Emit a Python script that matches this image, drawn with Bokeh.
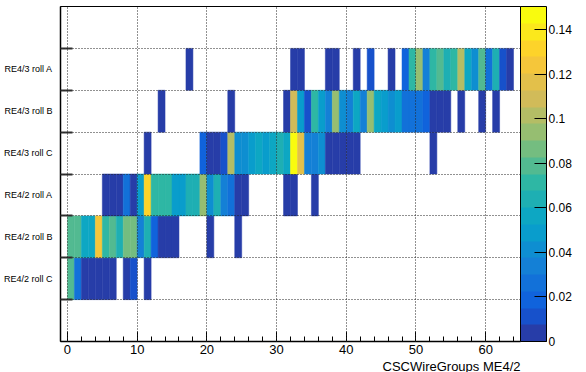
import numpy as np
from bokeh.plotting import figure
from bokeh.models import (ColumnDataSource, LinearColorMapper, ColorBar, FixedTicker,
                          SingleIntervalTicker, Title, CustomJSTickFormatter)
from bokeh.transform import transform
from bokeh.embed import file_html
from bokeh.resources import INLINE

# ---------------- data ----------------
roll_labels = ["RE4/2 roll C", "RE4/2 roll B", "RE4/2 roll A",
               "RE4/3 roll C", "RE4/3 roll B", "RE4/3 roll A"]
roll_rows = [1, 2, 3, 4, 5, 6]

re42C_bins = [0, 1, 2, 3, 4, 5, 6, 8, 9, 11]
re42C_vals = [0.079, 0.026, 0.003, 0.003, 0.003, 0.003, 0.003, 0.003, 0.011, 0.003]

re42B_bins = [0, 1, 2, 3, 4, 5, 6, 7, 8, 9, 10, 11, 12, 13, 14, 15, 20, 24]
re42B_vals = [0.079, 0.079, 0.056, 0.056, 0.124, 0.071, 0.079, 0.064, 0.086, 0.086,
              0.034, 0.064, 0.019, 0.003, 0.003, 0.003, 0.003, 0.003]

re42A_bins = [5, 6, 7, 8, 9, 10, 11, 12, 13, 14, 15, 16, 17, 18, 19, 20, 21, 22, 23,
              24, 25, 31, 32, 35]
re42A_vals = [0.003, 0.003, 0.003, 0.026, 0.003, 0.049, 0.131, 0.071, 0.071, 0.071,
              0.049, 0.049, 0.064, 0.064, 0.094, 0.041, 0.064, 0.034, 0.026,
              0.003, 0.003, 0.003, 0.003, 0.003]

re43C_bins = [11, 19, 20, 21, 22, 23, 24, 25, 26, 27, 28, 29, 30, 31, 32, 33, 34, 35,
              36, 37, 38, 39, 40, 41, 52]
re43C_vals = [0.003, 0.019, 0.003, 0.003, 0.011, 0.101, 0.041, 0.041, 0.049, 0.056,
              0.049, 0.056, 0.064, 0.056, 0.1504, 0.116, 0.034, 0.034,
              0.041, 0.003, 0.003, 0.003, 0.003, 0.003, 0.003]

re43B_bins = [13, 23, 31, 32, 33, 34, 35, 36, 37, 38, 39, 40, 41, 42, 43, 44, 45, 46,
              47, 48, 49, 50, 51, 52, 53, 54, 56, 59, 61]
re43B_vals = [0.003, 0.003, 0.003, 0.109, 0.049, 0.011, 0.071, 0.049, 0.034, 0.094,
              0.041, 0.034, 0.056, 0.034, 0.094, 0.056, 0.049, 0.041,
              0.049, 0.026, 0.026, 0.026, 0.019, 0.003, 0.003, 0.003, 0.003, 0.003, 0.003]

re43A_bins = [17, 32, 33, 37, 38, 41, 43, 46, 48, 49, 50, 51, 52, 53, 54, 55, 56, 57,
              58, 59, 60, 61, 62, 63]
re43A_vals = [0.003, 0.003, 0.003, 0.003, 0.003, 0.003, 0.011, 0.003, 0.019, 0.071,
              0.094, 0.034, 0.071, 0.079, 0.064, 0.071, 0.101, 0.056,
              0.041, 0.079, 0.026, 0.064, 0.011, 0.003]

x_title = "CSCWireGroups ME4/2"
cbar_ticks = [0, 0.02, 0.04, 0.06, 0.08, 0.10, 0.12, 0.14]

# ---------------- build table ----------------
rows_bins = [re42C_bins, re42B_bins, re42A_bins, re43C_bins, re43B_bins, re43A_bins]
rows_vals = [re42C_vals, re42B_vals, re42A_vals, re43C_vals, re43B_vals, re43A_vals]
xs, ys, vs = [], [], []
for r, b, v in zip(roll_rows, rows_bins, rows_vals):
    for bb, vv in zip(b, v):
        xs.append(bb + 0.5)
        ys.append(r + 0.5)
        vs.append(vv)
src = ColumnDataSource(dict(x=xs, y=ys, v=vs))
z_max = max(vs)

# ROOT kBird palette, 20 contour levels
stops = [0.0, 0.125, 0.25, 0.375, 0.5, 0.625, 0.75, 0.875, 1.0]
red = [0.2082, 0.0592, 0.0780, 0.0232, 0.1802, 0.5301, 0.8186, 0.9956, 0.9764]
green = [0.1664, 0.3599, 0.5041, 0.6419, 0.7178, 0.7492, 0.7328, 0.7862, 0.9832]
blue = [0.5293, 0.8684, 0.8385, 0.7914, 0.6425, 0.4662, 0.3499, 0.1968, 0.0539]
n_lev = 20
fr = np.array([int((i + 0.99) * 255 / n_lev) for i in range(n_lev)]) / 254.0
rr = np.interp(fr, stops, red)
gg = np.interp(fr, stops, green)
bl = np.interp(fr, stops, blue)
palette = ["#%02x%02x%02x" % (int(round(a * 255)), int(round(b * 255)), int(round(c * 255)))
           for a, b, c in zip(rr, gg, bl)]

mapper = LinearColorMapper(palette=palette, low=0, high=z_max)

FONT = "Liberation Sans"

p = figure(frame_width=460, frame_height=335, x_range=(-1, 65), y_range=(0, 8),
           output_backend="svg", toolbar_location=None,
           min_border_left=57, min_border_top=6, min_border_bottom=26, min_border_right=0)
p.background_fill_color = "white"
p.border_fill_color = "white"
p.outline_line_color = "black"
p.outline_line_width = 1

p.rect(x="x", y="y", width=1, height=1, source=src,
       fill_color=transform("v", mapper), line_color=transform("v", mapper), line_width=0.5)

# x axis
p.xaxis.ticker = SingleIntervalTicker(interval=10, num_minor_ticks=5)
p.xaxis.major_tick_in = 10
p.xaxis.major_tick_out = 0
p.xaxis.minor_tick_in = 5
p.xaxis.minor_tick_out = 0
p.xaxis.major_label_standoff = 3
p.xaxis.major_label_text_font = FONT
p.xaxis.major_label_text_font_size = "13px"
p.xaxis.major_label_text_color = "black"
p.xaxis.axis_line_width = 1.5
p.xaxis.axis_line_color = "black"
p.xaxis.major_tick_line_color = "black"
p.xaxis.minor_tick_line_color = "black"

# y axis
p.yaxis.ticker = FixedTicker(ticks=[r + 0.5 for r in roll_rows], minor_ticks=[1, 2, 3, 4, 5, 6, 7])
p.yaxis.major_label_overrides = {r + 0.5: lab for r, lab in zip(roll_rows, roll_labels)}
p.yaxis.major_tick_in = 0
p.yaxis.major_tick_out = 0
p.yaxis.minor_tick_in = 12
p.yaxis.minor_tick_out = 0
p.yaxis.minor_tick_line_width = 2
p.yaxis.minor_tick_line_color = "#333333"
p.yaxis.major_label_standoff = 8
p.yaxis.major_label_text_font = FONT
p.yaxis.major_label_text_font_size = "9px"
p.yaxis.major_label_text_color = "black"
p.yaxis.axis_line_width = 1.5
p.yaxis.axis_line_color = "black"

# grids (dotted, drawn above the cells)
p.ygrid.ticker = FixedTicker(ticks=[1, 2, 3, 4, 5, 6, 7])
for g in (p.xgrid, p.ygrid):
    g.grid_line_color = "#222222"
    g.grid_line_dash = "1 2"
    g.grid_line_width = 1
    g.level = "guide"

# axis title, right aligned at the end of the axis
p.add_layout(Title(text=x_title, align="right", text_font=FONT, text_font_size="13px",
                   text_font_style="normal", text_color="black", standoff=0, offset=0), "below")

cb = ColorBar(color_mapper=mapper, width=26, padding=0, margin=0,
              ticker=FixedTicker(ticks=cbar_ticks),
              formatter=CustomJSTickFormatter(code="return tick.toFixed(2).replace(/0+$/,'').replace(/\\.$/,'');"),
              major_tick_in=12, major_tick_out=0, major_tick_line_color="black",
              minor_tick_in=0, minor_tick_out=0,
              label_standoff=2, major_label_text_font=FONT,
              major_label_text_font_size="12px", major_label_text_color="black",
              bar_line_color="black", bar_line_width=1,
              border_line_color=None, background_fill_alpha=0)
p.add_layout(cb, "right")

open("out.html", "w").write(file_html(p, INLINE))
